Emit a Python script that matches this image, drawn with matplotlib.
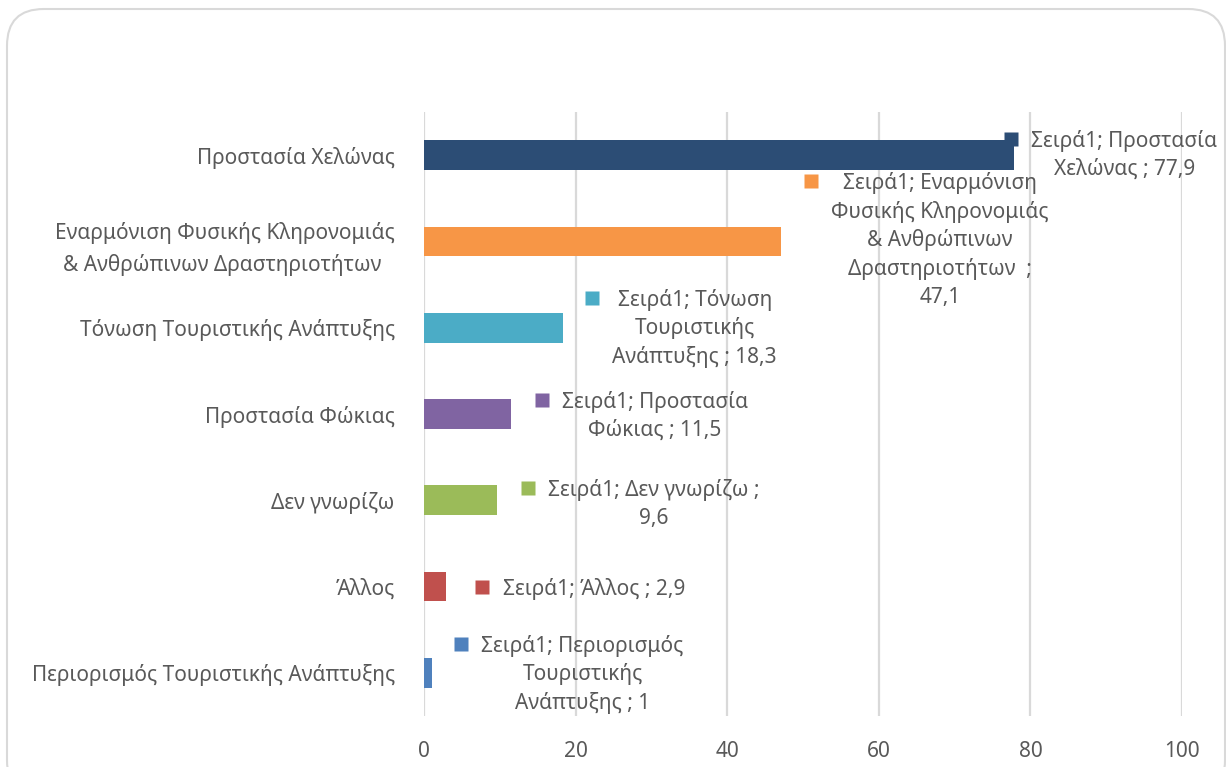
import matplotlib
matplotlib.use('Agg')
import matplotlib.pyplot as plt
from matplotlib.patches import FancyBboxPatch
from matplotlib.transforms import offset_copy

plt.rcParams['font.family'] = ['Noto Sans', 'DejaVu Sans']

categories = ['Προστασία Χελώνας',
              'Εναρμόνιση Φυσικής Κληρονομιάς\n& Ανθρώπινων Δραστηριοτήτων ',
              'Τόνωση Τουριστικής Ανάπτυξης',
              'Προστασία Φώκιας',
              'Δεν γνωρίζω',
              'Άλλος',
              'Περιορισμός Τουριστικής Ανάπτυξης']
values = [77.9, 47.1, 18.3, 11.5, 9.6, 2.9, 1]
colors = ['#2C4D75', '#F79646', '#4BACC6', '#8064A2', '#9BBB59', '#C0504D', '#4F81BD']
label_lines = [['Σειρά1; Προστασία', 'Χελώνας ; 77,9'],
               ['Σειρά1; Εναρμόνιση', 'Φυσικής Κληρονομιάς', '& Ανθρώπινων', 'Δραστηριοτήτων  ;', '47,1'],
               ['Σειρά1; Τόνωση', 'Τουριστικής', 'Ανάπτυξης ; 18,3'],
               ['Σειρά1; Προστασία', 'Φώκιας ; 11,5'],
               ['Σειρά1; Δεν γνωρίζω ;', '9,6'],
               ['Σειρά1; Άλλος ; 2,9'],
               ['Σειρά1; Περιορισμός', 'Τουριστικής', 'Ανάπτυξης ; 1']]
# label placement: (dx, dy) pixels from bar end / bar centre to first line centre (dy downwards)
label_offsets = [(110, -14), (159, -58), (132, -28), (144, -12), (157, -10), (148, 2), (151, -27)]

W, H = 1226, 767
TXT = '#595959'
GRID = '#D9D9D9'
FS = 15
LH = 28.5

fig = plt.figure(figsize=(W / 100, H / 100), dpi=100)
border = FancyBboxPatch((7 / W, -30 / H), 1218 / W, (H - 9 + 30) / H,
                        boxstyle='round,pad=0,rounding_size=0.03',
                        transform=fig.transFigure, facecolor='none',
                        edgecolor=GRID, lw=1.5, zorder=0,
                        mutation_aspect=W / H)
fig.patches.append(border)

ax = fig.add_axes([424 / W, 1 - 716 / H, 758 / W, 604 / H])
ax.set_facecolor('none')
y = list(range(len(categories)))
ax.barh(y, values, height=0.345, color=colors, zorder=3)
ax.set_xlim(0, 100)
ax.set_ylim(len(categories) - 0.5, -0.5)
ax.set_xticks(range(0, 101, 20))
ax.set_yticks(y)
ax.set_yticklabels(categories, fontsize=FS, color=TXT, multialignment='center', linespacing=1.6)
ax.tick_params(axis='x', labelsize=FS, labelcolor=TXT, length=0, pad=18)
ax.tick_params(axis='y', length=0, pad=21)
ax.grid(axis='x', color=GRID, lw=1.6, zorder=0)
for s in ax.spines.values():
    s.set_visible(False)

fig.canvas.draw()
r = fig.canvas.get_renderer()
for i, (v, lines, (dx, dy), c) in enumerate(zip(values, label_lines, label_offsets, colors)):
    widths = []
    for k, line in enumerate(lines):
        t = ax.annotate(line, xy=(v, i), xytext=(dx, -dy - k * LH), textcoords='offset pixels',
                        ha='center', va='center', fontsize=FS, color=TXT, annotation_clip=False)
        widths.append(t.get_window_extent(r).width)
    left = dx - max(widths) / 2
    tr = offset_copy(ax.transData, fig=fig, x=left - 14 - 6.5, y=-dy + 2, units='dots')
    ax.plot([v], [i], marker='s', ms=9.4, color=c, mec='none', transform=tr, clip_on=False, zorder=4)

fig.savefig('out.png', dpi=100)
